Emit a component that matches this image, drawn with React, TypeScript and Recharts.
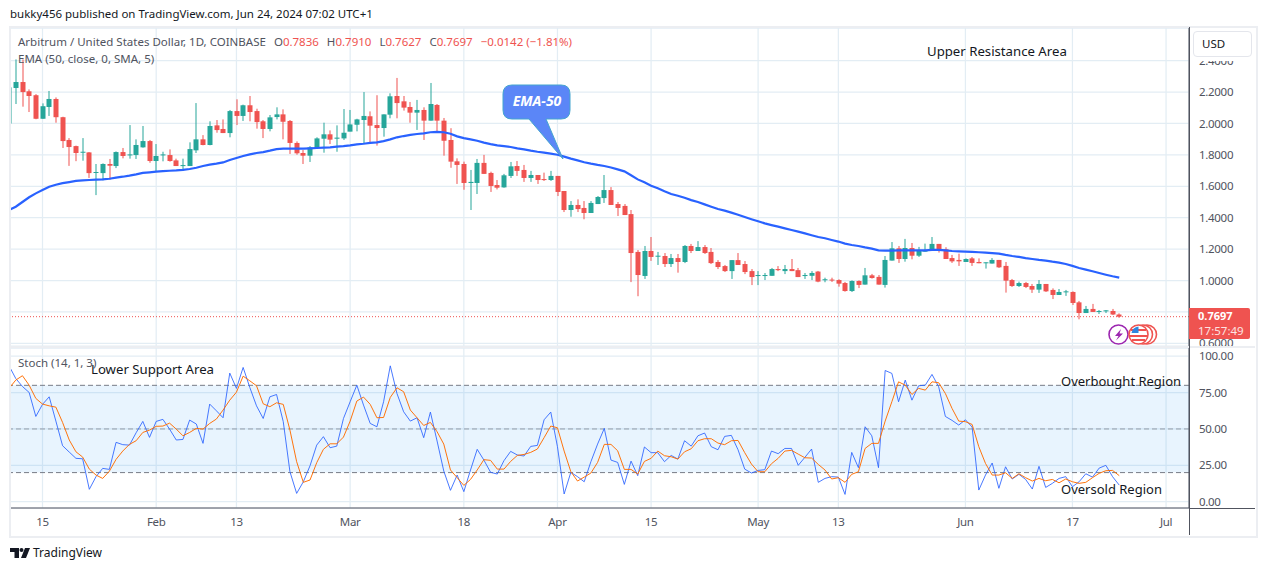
import {
  ComposedChart,
  Bar,
  Line,
  XAxis,
  YAxis,
  CartesianGrid,
  ReferenceArea,
  ReferenceLine,
} from 'recharts';

// one value per day, Jan 10 to Jun 24 2024 (lines: Jan, Feb, Mar, Apr, May, Jun)
const opens = [
  2.0, 2.226, 2.264, 2.205, 2.18, 2.03, 2.105, 2.156, 2.04, 1.895, 1.856, 1.815, 1.816, 1.687, 1.684, 1.742, 1.729, 1.818, 1.797, 1.799, 1.848, 1.888,
  1.761, 1.797, 1.799, 1.765, 1.731, 1.729, 1.829, 1.899, 1.863, 1.988, 1.965, 1.939, 2.079, 2.048, 2.116, 2.079, 2.014, 1.965, 2.041, 2.058, 2.016, 1.876, 1.812, 1.795, 1.844, 1.903, 1.931, 1.903, 1.905,
  1.948, 1.992, 2.022, 2.046, 1.99, 1.971, 2.056, 2.175, 2.141, 2.105, 2.069, 2.086, 2.018, 2.118, 2.018, 1.895, 1.759, 1.742, 1.621, 1.621, 1.749, 1.685, 1.608, 1.593, 1.666, 1.729, 1.704, 1.653, 1.672, 1.646, 1.64,
  1.666, 1.57, 1.449, 1.481, 1.462, 1.43, 1.487, 1.525, 1.576, 1.487, 1.475, 1.423, 1.182, 1.029, 1.188, 1.152, 1.156, 1.105, 1.143, 1.118, 1.22, 1.188, 1.213, 1.182, 1.118, 1.092, 1.06, 1.13, 1.105, 1.06,
  1.03, 1.03, 1.03, 1.073, 1.06, 1.073, 1.066, 1.03, 1.03, 1.057, 1.004, 1.006, 1.003, 0.984, 0.933, 0.997, 0.974, 1.033, 1.023, 0.972, 1.127, 1.205, 1.137, 1.207, 1.158, 1.186, 1.188, 1.233, 1.199, 1.143, 1.131,
  1.118, 1.141, 1.118, 1.112, 1.108, 1.131, 1.093, 1.003, 0.965, 0.984, 0.965, 0.942, 0.978, 0.94, 0.908, 0.927, 0.927, 0.861, 0.793, 0.819, 0.802, 0.806, 0.806, 0.7836,
];
const highs = [
  2.23, 2.408, 2.408, 2.217, 2.187, 2.128, 2.207, 2.166, 2.043, 1.907, 1.859, 1.907, 1.818, 1.742, 1.746, 1.774, 1.822, 1.844, 1.99, 1.899, 1.984, 1.895,
  1.869, 1.82, 1.835, 1.776, 1.776, 1.88, 2.13, 1.926, 2.014, 2.022, 2.026, 2.086, 2.154, 2.12, 2.175, 2.094, 2.022, 2.054, 2.103, 2.09, 2.022, 1.886, 1.831, 1.856, 1.912, 2.005, 1.956, 1.988, 2.092,
  2.086, 2.03, 2.2, 2.077, 2.18, 2.058, 2.192, 2.29, 2.175, 2.137, 2.15, 2.103, 2.258, 2.124, 2.035, 1.97, 1.778, 1.757, 1.704, 1.774, 1.8, 1.693, 1.64, 1.679, 1.755, 1.761, 1.736, 1.698, 1.672, 1.687, 1.698,
  1.666, 1.57, 1.506, 1.517, 1.506, 1.506, 1.538, 1.672, 1.595, 1.5, 1.487, 1.449, 1.194, 1.22, 1.277, 1.182, 1.175, 1.169, 1.169, 1.226, 1.233, 1.251, 1.226, 1.207, 1.13, 1.099, 1.13, 1.175, 1.124, 1.073,
  1.06, 1.048, 1.08, 1.092, 1.099, 1.137, 1.08, 1.048, 1.06, 1.061, 1.018, 1.018, 1.008, 0.991, 1.001, 1.001, 1.08, 1.042, 1.035, 1.156, 1.245, 1.22, 1.265, 1.239, 1.214, 1.235, 1.277, 1.233, 1.212, 1.163, 1.171,
  1.141, 1.15, 1.141, 1.116, 1.143, 1.131, 1.118, 1.01, 0.993, 0.991, 0.978, 1.003, 0.978, 0.95, 0.946, 0.94, 0.931, 0.87, 0.838, 0.851, 0.812, 0.812, 0.819, 0.791,
];
const lows = [
  1.85, 2.124, 2.107, 2.073, 2.027, 2.03, 2.048, 2.005, 1.844, 1.73, 1.76, 1.763, 1.653, 1.544, 1.638, 1.642, 1.716, 1.778, 1.776, 1.774, 1.846, 1.75,
  1.693, 1.759, 1.757, 1.729, 1.699, 1.729, 1.812, 1.861, 1.861, 1.941, 1.939, 1.912, 1.99, 2.016, 2.014, 1.967, 1.907, 1.95, 2.026, 1.899, 1.806, 1.801, 1.742, 1.755, 1.84, 1.814, 1.869, 1.82, 1.895,
  1.95, 1.95, 1.873, 1.878, 1.859, 1.916, 2.033, 2.033, 2.082, 2.005, 1.959, 1.895, 2.018, 1.946, 1.795, 1.718, 1.615, 1.578, 1.449, 1.551, 1.679, 1.564, 1.58, 1.591, 1.653, 1.666, 1.628, 1.628, 1.615, 1.634, 1.634,
  1.538, 1.436, 1.406, 1.436, 1.39, 1.43, 1.487, 1.494, 1.481, 1.411, 1.417, 0.99, 0.9, 1.01, 1.125, 1.099, 1.086, 1.086, 1.05, 1.111, 1.175, 1.188, 1.169, 1.105, 1.073, 1.054, 1.01, 1.099, 1.041, 0.971,
  0.971, 1.003, 1.03, 1.06, 1.041, 1.06, 1.022, 1.01, 1.003, 0.989, 0.989, 0.991, 0.961, 0.929, 0.927, 0.952, 0.974, 1.012, 0.974, 0.955, 1.127, 1.112, 1.12, 1.135, 1.15, 1.184, 1.188, 1.178, 1.137, 1.112, 1.093,
  1.118, 1.093, 1.11, 1.076, 1.108, 1.08, 0.923, 0.959, 0.959, 0.952, 0.921, 0.921, 0.927, 0.882, 0.908, 0.902, 0.844, 0.753, 0.793, 0.8, 0.787, 0.793, 0.78, 0.7627,
];
const closes = [
  2.23, 2.264, 2.2, 2.175, 2.03, 2.11, 2.156, 2.04, 1.888, 1.85, 1.812, 1.82, 1.684, 1.691, 1.742, 1.731, 1.818, 1.793, 1.803, 1.863, 1.888, 1.761,
  1.793, 1.803, 1.761, 1.729, 1.735, 1.837, 1.899, 1.863, 1.984, 1.958, 1.939, 2.079, 2.048, 2.116, 2.073, 2.009, 1.965, 2.039, 2.058, 2.011, 1.876, 1.81, 1.795, 1.848, 1.905, 1.931, 1.897, 1.91, 1.941,
  1.994, 2.026, 2.048, 1.986, 1.971, 2.058, 2.173, 2.13, 2.101, 2.069, 2.086, 2.018, 2.124, 2.018, 1.89, 1.757, 1.736, 1.621, 1.628, 1.749, 1.679, 1.602, 1.591, 1.67, 1.727, 1.698, 1.653, 1.672, 1.64, 1.64, 1.666,
  1.564, 1.449, 1.481, 1.455, 1.43, 1.494, 1.532, 1.576, 1.481, 1.462, 1.417, 1.175, 1.035, 1.188, 1.15, 1.158, 1.105, 1.143, 1.118, 1.22, 1.188, 1.213, 1.175, 1.111, 1.086, 1.06, 1.13, 1.099, 1.054, 1.022,
  1.035, 1.035, 1.073, 1.066, 1.073, 1.06, 1.022, 1.035, 1.048, 0.993, 1.008, 1.0, 0.98, 0.933, 0.997, 0.972, 1.033, 1.016, 0.974, 1.131, 1.205, 1.137, 1.207, 1.158, 1.19, 1.19, 1.233, 1.195, 1.137, 1.122, 1.122,
  1.137, 1.112, 1.11, 1.116, 1.131, 1.084, 0.999, 0.965, 0.984, 0.959, 0.942, 0.978, 0.931, 0.908, 0.927, 0.931, 0.857, 0.793, 0.819, 0.8, 0.806, 0.81, 0.7836, 0.7697,
];
const ema = [
  1.449, 1.47, 1.5, 1.53, 1.555, 1.576, 1.597, 1.61, 1.62, 1.627, 1.634, 1.638, 1.64, 1.642, 1.644, 1.648, 1.655, 1.661, 1.668, 1.676, 1.685, 1.689,
  1.693, 1.697, 1.699, 1.701, 1.704, 1.71, 1.718, 1.729, 1.738, 1.744, 1.752, 1.767, 1.78, 1.793, 1.803, 1.812, 1.818, 1.827, 1.837, 1.84, 1.84, 1.84, 1.84, 1.842, 1.844, 1.846, 1.848, 1.852, 1.856,
  1.861, 1.867, 1.871, 1.876, 1.88, 1.888, 1.899, 1.912, 1.92, 1.927, 1.933, 1.937, 1.944, 1.946, 1.944, 1.935, 1.918, 1.907, 1.899, 1.89, 1.878, 1.869, 1.861, 1.856, 1.85, 1.841, 1.835, 1.827, 1.82, 1.814, 1.808,
  1.801, 1.789, 1.776, 1.765, 1.753, 1.744, 1.736, 1.729, 1.72, 1.708, 1.695, 1.67, 1.644, 1.625, 1.604, 1.587, 1.568, 1.551, 1.54, 1.527, 1.512, 1.5, 1.485, 1.47, 1.455, 1.445, 1.432, 1.419, 1.404, 1.39,
  1.377, 1.364, 1.353, 1.343, 1.332, 1.322, 1.311, 1.3, 1.288, 1.277, 1.269, 1.258, 1.248, 1.235, 1.226, 1.22, 1.211, 1.203, 1.192, 1.19, 1.19, 1.192, 1.192, 1.192, 1.192, 1.192, 1.195, 1.195, 1.192, 1.188, 1.186,
  1.184, 1.182, 1.18, 1.178, 1.175, 1.171, 1.163, 1.156, 1.15, 1.143, 1.137, 1.131, 1.127, 1.12, 1.114, 1.105, 1.093, 1.08, 1.069, 1.059, 1.048, 1.037, 1.027, 1.018,
];
const stochK = [
  93.4, 84.7, 79.2, 75.1, 58.6, 66.9, 72.1, 55.4, 38.5, 34.1, 29.8, 29.5, 8.5, 17.2, 22.9, 22.2, 40.8, 39.2, 38.9, 47.4, 55.2, 44.2,
  55.2, 56.6, 49.9, 42.4, 42.8, 56.1, 53.4, 40.1, 67.1, 62.5, 57.7, 88.4, 77.9, 92.3, 78.5, 65.9, 57.2, 72.1, 73.7, 55, 20.6, 5.7, 13.7, 24.7, 38.9, 44.7, 37.1, 38.2, 57.2,
  68.7, 80.1, 66.4, 53.8, 51.5, 68.7, 93.4, 74.4, 61.8, 55.4, 57.7, 44, 61.6, 41.7, 21.1, 7.8, 18.3, 6.9, 21.8, 36, 28.6, 20.2, 19, 28.2, 34.6, 32.1, 31.4, 38, 38.7, 56.3, 61.6,
  37.8, 5.3, 20.2, 17.2, 13.7, 27.5, 39.6, 50.4, 28.6, 27, 11.9, 27.9, 17.9, 37.6, 33.7, 33.7, 27.5, 31.8, 29.3, 41.9, 38.2, 45.3, 47.2, 37.8, 35.7, 44.9, 45.6, 35.7, 22.4, 19.7,
  21.5, 22, 34.8, 33, 36.6, 36.6, 25, 30.5, 36.2, 13.3, 16, 17.2, 16.9, 5, 33.9, 23.4, 51.5, 45.3, 23.4, 90.2, 88.2, 68.7, 83.6, 69.8, 79.7, 80.1, 87.5, 79, 58.6, 55.9, 52.7,
  56.3, 51.3, 8, 18.3, 26.6, 9.2, 24, 15.6, 18.8, 15.3, 8.7, 24.3, 9.8, 12.6, 16, 17.2, 10.3, 13.7, 19.2, 16.9, 23.1, 25, 17.2, 11.4,
];
const stochD = [
  77.9, 83.6, 86.6, 80.1, 71, 67.1, 65.9, 65, 54.5, 42.4, 34.3, 30.7, 22.4, 18.3, 16, 21, 29.1, 34.8, 39.4, 41.9, 47.6, 49.2,
  51.8, 52, 54, 49.9, 45.3, 47.6, 50.4, 49.9, 53.8, 56.8, 63, 69.8, 75.3, 86.3, 83.1, 79.7, 67.3, 65.3, 68, 66.9, 49.2, 27.5, 13.3, 14.9, 26.8, 36, 39.8, 39.8, 44.4,
  55.4, 69.2, 71.9, 66.9, 57.7, 57.9, 71.7, 78.3, 75.6, 63, 57.7, 52.4, 54.5, 48.1, 39.6, 21.8, 16.5, 11.2, 15.3, 21.8, 28.9, 28.4, 22.4, 22.4, 27.7, 31.8, 32.5, 33.9, 36.2, 44, 52,
  50.8, 34.8, 20.6, 14.2, 16.9, 19.7, 27, 39.4, 39.4, 35, 22.2, 22.2, 19, 27.7, 29.8, 34.8, 31.6, 30.9, 29.3, 34.3, 36.4, 41.9, 43.3, 43.3, 40.3, 39.2, 41.9, 42.1, 33.7, 25.9,
  20.6, 20.6, 26.1, 29.8, 34.8, 35.3, 32.7, 30.2, 30, 25.6, 21.8, 15.6, 16.5, 13.3, 18.8, 20.6, 36.6, 40.1, 40.1, 55.4, 68.7, 82.4, 80.1, 73.7, 77.9, 76.7, 82.4, 81.8, 74.4, 64.1, 55.4,
  55, 53.1, 37.8, 26.3, 18.3, 18.3, 19.9, 16, 19.2, 16.5, 14.2, 16, 14.4, 15.3, 13, 15.6, 13.7, 12.6, 13.3, 16.5, 19.5, 21.3, 21.5, 17.9,
];

// day numbers count from Jan 15 = 0
const firstDay = -5;
const dayTicks = [0, 17, 29, 46, 63, 77, 91, 107, 119, 138, 154, 168];
const dayLabels = ['15', 'Feb', '13', 'Mar', '18', 'Apr', '15', 'May', '13', 'Jun', '17', 'Jul'];
const priceTicks = [0.6, 0.8, 1.0, 1.2, 1.4, 1.6, 1.8, 2.0, 2.2, 2.4];
const stochTicks = [0, 25, 50, 75, 100];
const lastPrice = 0.7697;

const rows = opens.map((open, i) => ({
  day: firstDay + i,
  open,
  high: highs[i],
  low: lows[i],
  close: closes[i],
  range: [lows[i], highs[i]],
  ema: ema[i],
  k: stochK[i],
  d: stochD[i],
}));

const UP = '#26a69a';
const DOWN = '#ef5350';
const GRID = '#e3edf4';
const TEXT = '#50535e';
const FONT = '"Noto Sans", sans-serif';
const xDomain = [-4.86, 171.43];
const tickStyle = { fontSize: 11.5, fill: TEXT, fontFamily: FONT, letterSpacing: -0.3 };

function Candle(props: any) {
  const { x, y, width, height, payload } = props;
  const top = Math.min(y, y + height);
  const h = Math.abs(height);
  const perUnit = h / (payload.high - payload.low);
  const bodyTop = top + (payload.high - Math.max(payload.open, payload.close)) * perUnit;
  const bodyH = Math.max(Math.abs(payload.open - payload.close) * perUnit, 1);
  const color = payload.close >= payload.open ? UP : DOWN;
  const mid = Math.round(x + width / 2);
  return (
    <g>
      <rect x={mid - 0.5} y={top} width={1} height={h} fill={color} />
      <rect x={mid - 2.5} y={bodyTop} width={5} height={bodyH} fill={color} />
    </g>
  );
}

function Abs({ x, y, color, size, style, children }: any) {
  return (
    <div
      style={{
        position: 'absolute',
        left: x,
        top: y,
        color: color || TEXT,
        fontSize: size || 11.5,
        lineHeight: '16px',
        whiteSpace: 'nowrap',
        fontFamily: FONT,
        ...style,
      }}
    >
      {children}
    </div>
  );
}

function PriceChart() {
  return (
    <ComposedChart
      width={1252}
      height={347}
      data={rows}
      margin={{ top: 28, right: 0, bottom: 1, left: 10 }}
      style={{ position: 'absolute', left: 0, top: 0 }}
    >
      <CartesianGrid stroke={GRID} strokeWidth={1.25} />
      <XAxis type="number" dataKey="day" domain={xDomain} ticks={dayTicks} allowDataOverflow hide />
      <YAxis
        orientation="right"
        width={63}
        domain={[0.583, 2.608]}
        ticks={priceTicks}
        interval={0}
        allowDataOverflow
        tickLine={false}
        tickMargin={4}
        stroke={TEXT}
        tick={tickStyle}
        tickFormatter={(v: number) => v.toFixed(4)}
      />
      <ReferenceLine y={lastPrice} stroke={DOWN} strokeDasharray="1 2" />
      <Bar dataKey="range" barSize={5} shape={(p: any) => <Candle {...p} />} isAnimationActive={false} />
      <Line dataKey="ema" stroke="#2962ff" strokeWidth={2.2} dot={false} isAnimationActive={false} />
    </ComposedChart>
  );
}

function StochChart() {
  return (
    <ComposedChart
      width={1252}
      height={188}
      data={rows}
      margin={{ top: 0, right: 0, bottom: 0, left: 10 }}
      style={{ position: 'absolute', left: 0, top: 348 }}
    >
      <CartesianGrid stroke={GRID} strokeWidth={1.25} />
      <ReferenceArea y1={20} y2={80} fill="#2196f3" fillOpacity={0.1} stroke="none" />
      <ReferenceLine y={80} stroke="#787b86" strokeDasharray="5 3" />
      <ReferenceLine y={50} stroke="#787b86" strokeDasharray="5 3" strokeOpacity={0.7} />
      <ReferenceLine y={20} stroke="#787b86" strokeDasharray="5 3" />
      <XAxis
        type="number"
        dataKey="day"
        domain={xDomain}
        ticks={dayTicks}
        interval={0}
        allowDataOverflow
        height={28}
        tickLine={false}
        tickMargin={4}
        stroke={TEXT}
        tick={tickStyle}
        tickFormatter={(v: number) => dayLabels[dayTicks.indexOf(v)]}
      />
      <YAxis
        orientation="right"
        width={63}
        domain={[-4.34, 105.66]}
        ticks={stochTicks}
        interval={0}
        allowDataOverflow
        tickLine={false}
        tickMargin={4}
        stroke={TEXT}
        tick={tickStyle}
        tickFormatter={(v: number) => v.toFixed(2)}
      />
      <Line dataKey="k" stroke="#2962ff" strokeWidth={1} strokeOpacity={0.85} dot={false} isAnimationActive={false} />
      <Line dataKey="d" stroke="#ff6d00" strokeWidth={1} strokeOpacity={0.95} dot={false} isAnimationActive={false} />
    </ComposedChart>
  );
}

function Frame() {
  const edge = '#eceef2';
  return (
    <>
      <div style={{ position: 'absolute', left: 1190, top: 28, width: 64, height: 32.5, background: '#fff' }} />
      <div style={{ position: 'absolute', left: 9, top: 26, width: 1245, height: 508, border: `2px solid ${edge}` }} />
      <div style={{ position: 'absolute', left: 10, top: 346, width: 1245, height: 2, background: edge }} />
      <div style={{ position: 'absolute', left: 1189, top: 508, width: 66, height: 1, background: TEXT }} />
      <div style={{ position: 'absolute', left: 1189, top: 27, width: 1, height: 508, background: TEXT }} />
    </>
  );
}

function Overlays() {
  return (
    <svg width={1265} height={571} style={{ position: 'absolute', left: 0, top: 0 }}>
      <path
        d="M 512 85 H 561 Q 570 85 570 94 V 110 Q 570 119 561 119 H 546 L 563 159 L 529 119 H 512 Q 503 119 503 110 V 94 Q 503 85 512 85 Z"
        fill="#5b86f7"
        stroke="#45a5cf"
        strokeWidth={1}
      />
      <text x={537} y={106} textAnchor="middle" fill="#fff" fontSize={14} fontWeight="bold" fontStyle="italic" fontFamily={FONT}>
        EMA-50
      </text>
      <circle cx={1118.5} cy={334.5} r={9.5} fill="#fff" stroke="#9c27b0" strokeWidth={1.6} />
      <path d="M 1121 329 L 1115 336 H 1118.5 L 1116 340.5 L 1123 333.5 H 1119.5 Z" fill="#9c27b0" />
      <circle cx={1147} cy={334.5} r={9.5} fill="#fff" stroke={DOWN} strokeWidth={1.6} />
      <circle cx={1143} cy={334.5} r={9.5} fill="#fff" stroke={DOWN} strokeWidth={1.6} />
      <circle cx={1138.5} cy={334.5} r={9.5} fill="#fff" stroke={DOWN} strokeWidth={1.6} />
      <path d="M 1131 330 H 1146 M 1130 336 H 1147 M 1132 340 H 1145" stroke={DOWN} strokeWidth={2} />
      <path d="M 1131.5 333 A 8 8 0 0 1 1138.5 326.5 V 333 Z" fill="#2e86de" />
      {/* TradingView logo */}
      <path d="M 10 548 H 19 V 558 H 14.5 V 552 H 10 Z" fill="#131722" />
      <circle cx={21.5} cy={550} r={2} fill="#131722" />
      <path d="M 25 548 H 30 L 26 558 H 21 Z" fill="#131722" />
    </svg>
  );
}

export default function App() {
  return (
    <div style={{ position: 'absolute', left: 0, top: 0, width: 1265, height: 571, background: '#fff', overflow: 'hidden' }}>
      <PriceChart />
      <StochChart />
      <Frame />
      <Overlays />
      <Abs x={10} y={6} color="#131722">bukky456 published on TradingView.com, Jun 24, 2024 07:02 UTC+1</Abs>
      <Abs x={18} y={34}>
        Arbitrum / United States Dollar, 1D, COINBASE
        <span style={{ marginLeft: 8 }}>O</span><span style={{ color: DOWN }}>0.7836</span>
        <span style={{ marginLeft: 8 }}>H</span><span style={{ color: DOWN }}>0.7910</span>
        <span style={{ marginLeft: 8 }}>L</span><span style={{ color: DOWN }}>0.7627</span>
        <span style={{ marginLeft: 8 }}>C</span><span style={{ color: DOWN }}>0.7697</span>
        <span style={{ marginLeft: 8, color: DOWN }}>−0.0142 (−1.81%)</span>
      </Abs>
      <Abs x={18} y={51}>EMA (50, close, 0, SMA, 5)</Abs>
      <Abs x={18} y={355}>Stoch (14, 1, 3)</Abs>
      <Abs x={927} y={43} color="#131722" size={13.2}>Upper Resistance Area</Abs>
      <Abs x={91} y={361} color="#131722" size={13.2}>Lower Support Area</Abs>
      <Abs x={1061} y={373} color="#131722" size={13}>Overbought Region</Abs>
      <Abs x={1061} y={481} color="#131722" size={13}>Oversold Region</Abs>
      <Abs x={33} y={545} color="#131722" size={12}>TradingView</Abs>
      <Abs
        x={1193}
        y={31}
        color="#131722"
        style={{ width: 59, height: 26, lineHeight: '24px', border: '1px solid #e4e6ec', borderRadius: 4, background: '#fff', paddingLeft: 8, boxSizing: 'border-box' }}
      >
        USD
      </Abs>
      <div style={{ position: 'absolute', left: 1189, top: 308, width: 61, height: 31, background: DOWN, borderRadius: '0 2px 2px 0' }} />
      <Abs x={1198} y={308} color="#fff" size={11} style={{ fontWeight: 'bold' }}>0.7697</Abs>
      <Abs x={1198} y={323} color="#fde3e2">17:57:49</Abs>
    </div>
  );
}
